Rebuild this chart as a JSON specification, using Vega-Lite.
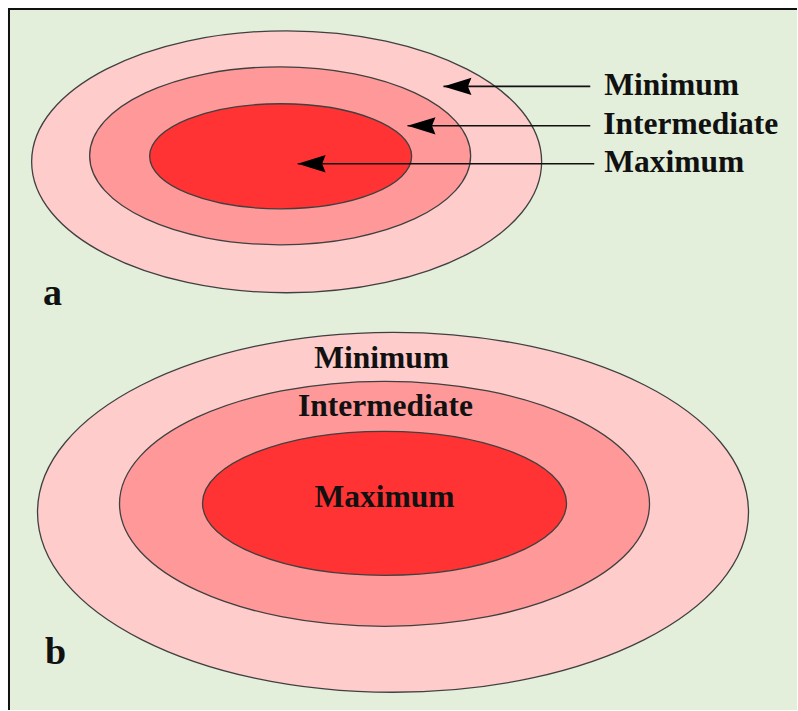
{
  "$schema": "https://vega.github.io/schema/vega-lite/v6.json",
  "autosize": {"type": "fit", "contains": "padding"},
  "width": 798,
  "height": 711,
  "padding": 0,
  "background": "white",
  "config": {"view": {"stroke": null}},
  "datasets": {
    "frame": [{"x1": 9, "x2": 798, "y1": 9, "y2": 711}],
    "border": [
      {"x1": 8, "x2": 798, "y1": 9, "y2": 9},
      {"x1": 9, "x2": 9, "y1": 8, "y2": 711}
    ],
    "ellipses": [
      {"panel": "a", "level": "Minimum", "id": "aMin", "cx": 287, "cy": 162, "rx": 255, "order": 1},
      {"panel": "a", "level": "Intermediate", "id": "aInt", "cx": 280.5, "cy": 156, "rx": 190.5, "order": 2},
      {"panel": "a", "level": "Maximum", "id": "aMax", "cx": 281, "cy": 156.5, "rx": 131, "order": 3},
      {"panel": "b", "level": "Minimum", "id": "bMin", "cx": 393.5, "cy": 513, "rx": 355.5, "order": 4},
      {"panel": "b", "level": "Intermediate", "id": "bInt", "cx": 385, "cy": 504.5, "rx": 265, "order": 5},
      {"panel": "b", "level": "Maximum", "id": "bMax", "cx": 385, "cy": 504, "rx": 182, "order": 6}
    ],
    "arrows": [
      {"level": "Minimum", "tip": 444, "end": 591, "y": 86.5},
      {"level": "Intermediate", "tip": 408, "end": 591, "y": 126},
      {"level": "Maximum", "tip": 298, "end": 595, "y": 164}
    ],
    "labels": [
      {"group": "side", "text": "Minimum", "x": 605, "y": 95},
      {"group": "side", "text": "Intermediate", "x": 604, "y": 134},
      {"group": "side", "text": "Maximum", "x": 605, "y": 172.5},
      {"group": "inside", "text": "Minimum", "x": 382, "y": 369},
      {"group": "inside", "text": "Intermediate", "x": 386, "y": 417},
      {"group": "inside", "text": "Maximum", "x": 385, "y": 508},
      {"group": "panel", "text": "a", "x": 43, "y": 305},
      {"group": "panel", "text": "b", "x": 45, "y": 665}
    ]
  },
  "layer": [
    {
      "data": {"name": "frame"},
      "mark": {"type": "rect", "fill": "#e3efda", "strokeWidth": 0},
      "encoding": {
        "x": {"field": "x1", "type": "quantitative", "scale": {"domain": [0, 798], "nice": false, "zero": false}, "axis": null},
        "x2": {"field": "x2"},
        "y": {"field": "y1", "type": "quantitative", "scale": {"domain": [0, 711], "nice": false, "zero": false, "reverse": true}, "axis": null},
        "y2": {"field": "y2"}
      }
    },
    {
      "data": {"name": "border"},
      "mark": {"type": "rule", "color": "#111111", "strokeWidth": 2},
      "encoding": {
        "x": {"field": "x1", "type": "quantitative", "axis": null},
        "x2": {"field": "x2"},
        "y": {"field": "y1", "type": "quantitative", "axis": null},
        "y2": {"field": "y2"}
      }
    },
    {
      "data": {"name": "ellipses"},
      "mark": {"type": "point", "filled": true, "opacity": 1, "stroke": "#404040", "strokeWidth": 1.3},
      "encoding": {
        "x": {"field": "cx", "type": "quantitative", "axis": null},
        "y": {"field": "cy", "type": "quantitative", "axis": null},
        "size": {"field": "rx", "type": "quantitative", "scale": {"type": "pow", "exponent": 2, "domain": [0, 400], "range": [0, 640000]}, "legend": null},
        "shape": {"field": "id", "type": "nominal", "legend": null, "scale": {
          "domain": ["aMin", "aInt", "aMax", "bMin", "bInt", "bMax"],
          "range": [
            "M-1,0C-1,-0.2837,-0.5523,-0.5137,0,-0.5137C0.5523,-0.5137,1,-0.2837,1,0C1,0.2837,0.5523,0.5137,0,0.5137C-0.5523,0.5137,-1,0.2837,-1,0Z",
            "M-1,0C-1,-0.2580,-0.5523,-0.4672,0,-0.4672C0.5523,-0.4672,1,-0.2580,1,0C1,0.2580,0.5523,0.4672,0,0.4672C-0.5523,0.4672,-1,0.2580,-1,0Z",
            "M-1,0C-1,-0.2214,-0.5523,-0.4008,0,-0.4008C0.5523,-0.4008,1,-0.2214,1,0C1,0.2214,0.5523,0.4008,0,0.4008C-0.5523,0.4008,-1,0.2214,-1,0Z",
            "M-1,0C-1,-0.2796,-0.5523,-0.5063,0,-0.5063C0.5523,-0.5063,1,-0.2796,1,0C1,0.2796,0.5523,0.5063,0,0.5063C-0.5523,0.5063,-1,0.2796,-1,0Z",
            "M-1,0C-1,-0.2553,-0.5523,-0.4623,0,-0.4623C0.5523,-0.4623,1,-0.2553,1,0C1,0.2553,0.5523,0.4623,0,0.4623C-0.5523,0.4623,-1,0.2553,-1,0Z",
            "M-1,0C-1,-0.2185,-0.5523,-0.3956,0,-0.3956C0.5523,-0.3956,1,-0.2185,1,0C1,0.2185,0.5523,0.3956,0,0.3956C-0.5523,0.3956,-1,0.2185,-1,0Z"
          ]}},
        "color": {"field": "level", "type": "nominal", "legend": null, "scale": {"domain": ["Minimum", "Intermediate", "Maximum"], "range": ["#ffcccc", "#ff9999", "#ff3333"]}},
        "order": {"field": "order", "type": "quantitative"}
      }
    },
    {
      "data": {"name": "arrows"},
      "mark": {"type": "rule", "color": "#111111", "strokeWidth": 1.6},
      "encoding": {
        "x": {"field": "tip", "type": "quantitative", "axis": null},
        "x2": {"field": "end"},
        "y": {"field": "y", "type": "quantitative", "axis": null}
      }
    },
    {
      "data": {"name": "arrows"},
      "mark": {"type": "point", "filled": true, "opacity": 1, "color": "#000000", "size": 784, "shape": "M0,0L2,-0.62L1.75,0L2,0.62Z"},
      "encoding": {
        "x": {"field": "tip", "type": "quantitative", "axis": null},
        "y": {"field": "y", "type": "quantitative", "axis": null}
      }
    },
    {
      "data": {"name": "labels"},
      "transform": [{"filter": "datum.group === 'side'"}],
      "mark": {"type": "text", "align": "left", "baseline": "alphabetic", "font": "Liberation Serif", "fontWeight": "bold", "fontSize": 31.5, "color": "#111111"},
      "encoding": {
        "x": {"field": "x", "type": "quantitative", "axis": null},
        "y": {"field": "y", "type": "quantitative", "axis": null},
        "text": {"field": "text"}
      }
    },
    {
      "data": {"name": "labels"},
      "transform": [{"filter": "datum.group === 'inside'"}],
      "mark": {"type": "text", "align": "center", "baseline": "alphabetic", "font": "Liberation Serif", "fontWeight": "bold", "fontSize": 31.5, "color": "#111111"},
      "encoding": {
        "x": {"field": "x", "type": "quantitative", "axis": null},
        "y": {"field": "y", "type": "quantitative", "axis": null},
        "text": {"field": "text"}
      }
    },
    {
      "data": {"name": "labels"},
      "transform": [{"filter": "datum.group === 'panel'"}],
      "mark": {"type": "text", "align": "left", "baseline": "alphabetic", "font": "Liberation Serif", "fontWeight": "bold", "fontSize": 38, "color": "#111111"},
      "encoding": {
        "x": {"field": "x", "type": "quantitative", "axis": null},
        "y": {"field": "y", "type": "quantitative", "axis": null},
        "text": {"field": "text"}
      }
    }
  ]
}
